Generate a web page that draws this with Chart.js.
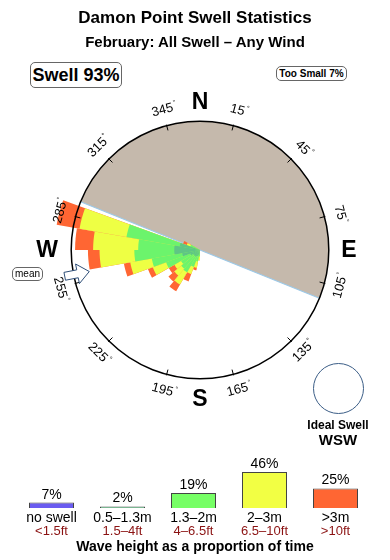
<!DOCTYPE html>
<html>
<head>
<meta charset="utf-8">
<script src="https://cdn.jsdelivr.net/npm/chart.js@4.4.1/dist/chart.umd.min.js"></script>
<style>
  body { margin: 0; width: 390px; height: 560px; position: relative; overflow: hidden; background: #fff;
         font-family: "Liberation Sans", Arial, sans-serif; color: #000; }
  canvas { position: absolute; left: 0; }
  .txt { position: absolute; left: 0; width: 390px; text-align: center; font-weight: bold; white-space: nowrap; }
  .box { position: absolute; border: 1px solid #666; border-radius: 5px; text-align: center; box-sizing: border-box; background: #fff; }
  .ideal { position: absolute; left: 313px; top: 363px; width: 51px; height: 51px; border: 1px solid #3b5d86;
           border-radius: 50%; box-sizing: border-box; }
</style>
</head>
<body>
<canvas id="rose" width="390" height="560" style="top:0"></canvas>
<canvas id="heights" width="390" height="120" style="top:440px"></canvas>

<div class="txt" style="top:8px;font-size:17px;line-height:20px">Damon Point Swell Statistics</div>
<div class="txt" style="top:33px;font-size:15px;line-height:18px">February: All Swell &ndash; Any Wind</div>
<div class="box" style="left:30px;top:62px;width:92px;height:26px;font-size:18px;line-height:24px;font-weight:bold">Swell 93%</div>
<div class="box" style="left:276px;top:66px;width:71px;height:15px;font-size:10px;line-height:13px;font-weight:bold">Too Small 7%</div>
<div class="box" style="left:12px;top:267px;width:31px;height:14px;font-size:10px;line-height:12px">mean</div>
<div class="ideal"></div>
<div class="txt" style="left:288px;width:100px;top:418px;font-size:12px;line-height:14px">Ideal Swell</div>
<div class="txt" style="left:288px;width:100px;top:431px;font-size:15px;line-height:17px">WSW</div>
<div class="txt" style="top:538px;font-size:14px;line-height:17px">Wave height as a proportion of time</div>

<script>
// Swell rose: 10 degree sectors, values are relative (circle = 100)
const sectorDirs = [185, 195, 205, 215, 225, 235, 245, 255, 265, 275, 285, 295];
const smallSwell = [0, 4, 5, 6, 6, 6, 8, 14, 20, 20, 16, 0];      // 0.5-1.3m
const midSwell   = [5, 5, 9, 14, 13, 11, 20, 24, 31, 28, 42, 8];   // 1.3-2m
const bigSwell   = [3, 5, 6, 11, 7, 6, 11, 17, 27, 35, 37, 3];     // 2-3m
const hugeSwell  = [0, 2, 6, 6, 6, 5, 4, 5, 9, 14, 18, 3];         // >3m

const ringValue = 100;
const degreeTicks = [15, 45, 75, 105, 135, 165, 195, 225, 255, 285, 315, 345];
const compass = [['N', 0], ['E', 90], ['S', 180], ['W', 270]];
const landFrom = 292, landTo = 112;   // shore sector (bearing, clockwise)
const meanDir = 259;

// Wave height legend
const heightLabels = ['no swell', '0.5\u20131.3m', '1.3\u20132m', '2\u20133m', '>3m'];
const heightFeet = ['<1.5ft', '1.5\u20134ft', '4\u20136.5ft', '6.5\u201310ft', '>10ft'];
const heightShare = [7, 2, 19, 46, 25];
const heightColors = ['#6a5cf0', '#5fae7e', '#77ff66', '#f2ff44', '#ff6633'];

// build 36 sectors (0-10, 10-20, ...) and stack them
const sectorLabels = Array.from({ length: 36 }, (_, i) => i * 10 + 5);
function stacked(layers) {
  return sectorLabels.map(d => {
    const k = sectorDirs.indexOf(d);
    if (k < 0) return 0;
    return layers.reduce((s, arr) => s + arr[k], 0);
  });
}

const rad = b => (b - 90) * Math.PI / 180;

const roseDecor = {
  id: 'roseDecor',
  beforeDatasetsDraw(chart) {
    const s = chart.scales.r, ctx = chart.ctx;
    const R = s.getDistanceFromCenterForValue(ringValue);
    ctx.save();
    ctx.fillStyle = '#c5b9ac';
    ctx.beginPath();
    ctx.arc(s.xCenter, s.yCenter, R, rad(landFrom), rad(landTo));
    ctx.closePath();
    ctx.fill();
    ctx.strokeStyle = '#9cc9e8';
    ctx.lineWidth = 1.2;
    ctx.beginPath();
    ctx.moveTo(s.xCenter + R * Math.cos(rad(landFrom)), s.yCenter + R * Math.sin(rad(landFrom)));
    ctx.lineTo(s.xCenter + R * Math.cos(rad(landTo)), s.yCenter + R * Math.sin(rad(landTo)));
    ctx.stroke();
    ctx.restore();
  },
  afterDatasetsDraw(chart) {
    const s = chart.scales.r, ctx = chart.ctx;
    const cx = s.xCenter, cy = s.yCenter;
    const R = s.getDistanceFromCenterForValue(ringValue);
    ctx.save();
    ctx.strokeStyle = '#000';
    ctx.lineWidth = 1.5;
    ctx.beginPath();
    ctx.arc(cx, cy, R, 0, Math.PI * 2);
    ctx.stroke();

    // degree ticks and labels
    ctx.lineWidth = 1;
    ctx.fillStyle = '#000';
    degreeTicks.forEach(b => {
      const a = rad(b);
      ctx.beginPath();
      ctx.moveTo(cx + (R - 5) * Math.cos(a), cy + (R - 5) * Math.sin(a));
      ctx.lineTo(cx + (R + 1) * Math.cos(a), cy + (R + 1) * Math.sin(a));
      ctx.stroke();
      const lr = R + 16;
      const rot = (b > 90 && b < 270 ? b - 180 : b) * Math.PI / 180;
      ctx.save();
      ctx.translate(cx + lr * Math.cos(a), cy + lr * Math.sin(a));
      ctx.rotate(rot);
      ctx.font = '13px "Liberation Sans", Arial';
      ctx.textAlign = 'center';
      ctx.textBaseline = 'middle';
      const txt = String(b);
      const w = ctx.measureText(txt).width;
      ctx.fillText(txt, 0, 0);
      ctx.font = '7px "Liberation Sans", Arial';
      ctx.textAlign = 'left';
      ctx.fillText('\u00b0', w / 2 + 1, -4);
      ctx.restore();
    });

    // compass letters
    ctx.font = 'bold 23px "Liberation Sans", Arial';
    ctx.textAlign = 'center';
    ctx.textBaseline = 'middle';
    compass.forEach(([t, b]) => {
      const a = rad(b), lr = R + (b === 270 ? 24 : 20);
      ctx.fillText(t, cx + lr * Math.cos(a), cy + lr * Math.sin(a) + 1);
    });

    // mean direction arrow (pointing inwards)
    const a = rad(meanDir);
    const ux = Math.cos(a), uy = Math.sin(a), px = -uy, py = ux;
    const pt = (r, o) => [cx + r * ux + o * px, cy + r * uy + o * py];
    const shape = [pt(R - 16, 0), pt(R - 4, 10), pt(R - 4, 4), pt(R + 9, 4), pt(R + 9, -4), pt(R - 4, -4), pt(R - 4, -10)];
    ctx.beginPath();
    shape.forEach(([x, y], i) => i ? ctx.lineTo(x, y) : ctx.moveTo(x, y));
    ctx.closePath();
    ctx.fillStyle = '#fff';
    ctx.fill();
    ctx.strokeStyle = '#2f4f78';
    ctx.lineWidth = 1;
    ctx.stroke();
    ctx.restore();
  }
};

new Chart(document.getElementById('rose'), {
  type: 'polarArea',
  data: {
    labels: sectorLabels,
    datasets: [
      { data: stacked([smallSwell]), backgroundColor: '#5fc585' },
      { data: stacked([smallSwell, midSwell]), backgroundColor: '#6cf46c' },
      { data: stacked([smallSwell, midSwell, bigSwell]), backgroundColor: '#eeff44' },
      { data: stacked([smallSwell, midSwell, bigSwell, hugeSwell]), backgroundColor: '#ff6633' }
    ]
  },
  options: {
    responsive: false,
    animation: false,
    layout: { padding: { left: 39, right: 29, top: 89, bottom: 149 } },
    elements: { arc: { borderWidth: 0 } },
    plugins: { legend: { display: false }, tooltip: { enabled: false } },
    scales: {
      r: {
        min: 0, max: 125, startAngle: 0,
        grid: { display: false },
        angleLines: { display: false },
        ticks: { display: false },
        pointLabels: { display: false }
      }
    }
  },
  plugins: [roseDecor]
});

// labels above and below the legend bars
const heightText = {
  id: 'heightText',
  afterDatasetsDraw(chart) {
    const ctx = chart.ctx, x = chart.scales.x, y = chart.scales.y;
    const base = y.getPixelForValue(0);
    ctx.save();
    ctx.textAlign = 'center';
    heightShare.forEach((v, i) => {
      const px = x.getPixelForValue(i);
      ctx.fillStyle = '#000';
      ctx.textBaseline = 'alphabetic';
      ctx.font = '14px "Liberation Sans", Arial';
      ctx.fillText(v + '%', px, y.getPixelForValue(v) - 4);
      ctx.textBaseline = 'middle';
      ctx.fillText(heightLabels[i], px, base + 10);
      ctx.fillStyle = '#8b1212';
      ctx.font = '13px "Liberation Sans", Arial';
      ctx.fillText(heightFeet[i], px, base + 23);
    });
    ctx.restore();
  }
};

new Chart(document.getElementById('heights'), {
  type: 'bar',
  data: {
    labels: heightLabels,
    datasets: [{
      data: heightShare,
      backgroundColor: heightColors,
      borderColor: '#444',
      borderWidth: 1,
      barPercentage: 0.634,
      categoryPercentage: 1
    }]
  },
  options: {
    responsive: false,
    animation: false,
    layout: { padding: { left: 16, right: 19, top: 21, bottom: 52 } },
    plugins: { legend: { display: false }, tooltip: { enabled: false } },
    scales: {
      x: { display: false },
      y: { display: false, min: 0, max: 60 }
    }
  },
  plugins: [heightText]
});
</script>
</body>
</html>
